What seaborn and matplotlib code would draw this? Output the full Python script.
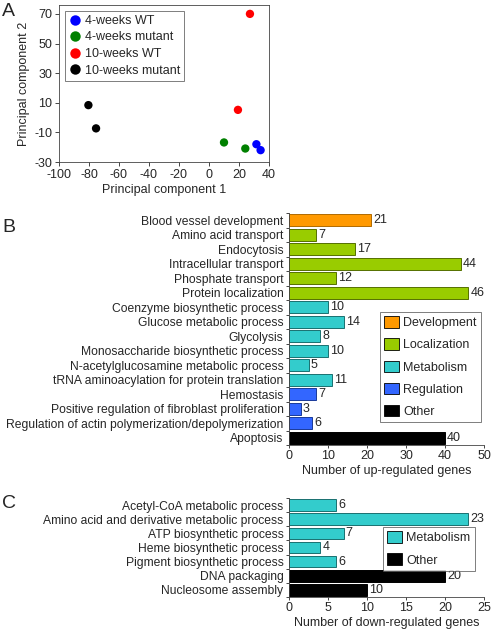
import matplotlib
matplotlib.use("Agg")
import matplotlib.pyplot as plt
from matplotlib.patches import Patch
import numpy as np
import pandas as pd
import seaborn as sns

sns.set_theme(style="white")
plt.rcParams['font.family'] = ['Liberation Sans', 'DejaVu Sans']
plt.rcParams['axes.unicode_minus'] = False
FS = 9

# ---- Panel A data ----
pca_groups = ["4-weeks WT", "4-weeks WT", "4-weeks mutant", "4-weeks mutant",
              "10-weeks WT", "10-weeks WT", "10-weeks mutant", "10-weeks mutant"]
pc1 = [31.6, 34.4, 10.0, 24.2, 27.3, 19.3, -80.4, -75.3]
pc2 = [-18.0, -22.0, -16.8, -20.9, 70.0, 5.2, 8.4, -7.3]
group_order = ["4-weeks WT", "4-weeks mutant", "10-weeks WT", "10-weeks mutant"]
group_colors = ["#0000ff", "#008000", "#ff0000", "#000000"]

# ---- Panel B data ----
up_terms = ["Blood vessel development", "Amino acid transport", "Endocytosis",
            "Intracellular transport", "Phosphate transport", "Protein localization",
            "Coenzyme biosynthetic process", "Glucose metabolic process", "Glycolysis",
            "Monosaccharide biosynthetic process", "N-acetylglucosamine metabolic process",
            "tRNA aminoacylation for protein translation", "Hemostasis",
            "Positive regulation of fibroblast proliferation",
            "Regulation of actin polymerization/depolymerization", "Apoptosis"]
up_counts = [21, 7, 17, 44, 12, 46, 10, 14, 8, 10, 5, 11, 7, 3, 6, 40]
up_cats = ["Development", "Localization", "Localization", "Localization", "Localization",
           "Localization", "Metabolism", "Metabolism", "Metabolism", "Metabolism",
           "Metabolism", "Metabolism", "Regulation", "Regulation", "Regulation", "Other"]

# ---- Panel C data ----
down_terms = ["Acetyl-CoA metabolic process", "Amino acid and derivative metabolic process",
              "ATP biosynthetic process", "Heme biosynthetic process",
              "Pigment biosynthetic process", "DNA packaging", "Nucleosome assembly"]
down_counts = [6, 23, 7, 4, 6, 20, 10]
down_cats = ["Metabolism"] * 5 + ["Other"] * 2

cat_order = ["Development", "Localization", "Metabolism", "Regulation", "Other"]
cat_colors = {"Development": "#ff9900", "Localization": "#99cc00",
              "Metabolism": "#33cccc", "Regulation": "#3366ff", "Other": "#000000"}
cat_edges = {"Development": "#b06a00", "Localization": "#557000",
             "Metabolism": "#1a7070", "Regulation": "#1a3a99", "Other": "#000000"}

W, H = 492, 636
fig = plt.figure(figsize=(W / 100, H / 100), dpi=100)

def rect(l, t, r, b):
    return [l / W, 1 - b / H, (r - l) / W, (b - t) / H]

# ---- Panel A ----
axA = fig.add_axes(rect(59, 5, 269, 162))
dfA = pd.DataFrame({"PC1": pc1, "PC2": pc2, "group": pca_groups})
sns.scatterplot(data=dfA, x="PC1", y="PC2", hue="group", hue_order=group_order,
                palette=group_colors, s=36, edgecolor="none", ax=axA)
axA.set_xlim(-100, 40)
axA.set_ylim(-30, 76)
axA.set_xticks(np.arange(-100, 41, 20))
axA.set_yticks([-30, -10, 10, 30, 50, 70])
axA.set_xlabel("Principal component 1", fontsize=FS, labelpad=2)
axA.set_ylabel("Principal component 2", fontsize=FS, labelpad=3)
axA.tick_params(axis="both", labelsize=FS, length=3, width=0.6, direction="out",
                bottom=True, left=True, pad=2)
for s in axA.spines.values():
    s.set_linewidth(0.6)
    s.set_color("#444444")
legA = axA.legend(loc="upper left", fontsize=FS, frameon=True, fancybox=False,
                  handletextpad=0.25, borderpad=0.35, labelspacing=0.36,
                  handlelength=1.0, borderaxespad=0.45, markerscale=1.25)
legA.get_frame().set_edgecolor("#444444")
legA.get_frame().set_linewidth(0.6)

def bar_panel(ax, terms, counts, cats, xmax, step, xlabel, legend_cats, leg_rect):
    df = pd.DataFrame({"term": terms, "count": counts, "cat": cats})
    sns.barplot(data=df, y="term", x="count", hue="cat", hue_order=cat_order,
                palette=cat_colors, dodge=False, width=0.82, legend=False,
                orient="h", ax=ax, saturation=1)
    for cont in ax.containers:
        for p in cont.patches:
            if p.get_width() > 0:
                fc = p.get_facecolor()
                for k, v in cat_colors.items():
                    if np.allclose(matplotlib.colors.to_rgba(v), fc, atol=0.02):
                        p.set_edgecolor(cat_edges[k])
                p.set_linewidth(0.7)
        ax.bar_label(cont, fontsize=FS, padding=1.5,
                     labels=[("%d" % v) if v > 0 else "" for v in cont.datavalues])
    n = len(terms)
    ax.set_ylim(n - 0.5, -0.5)
    ax.set_xlim(0, xmax)
    ax.set_xticks(np.arange(0, xmax + 0.1, step))
    ax.set_xlabel(xlabel, fontsize=FS, labelpad=2)
    ax.set_ylabel("")
    ax.set_yticks(np.arange(n))
    ax.set_yticks(np.arange(-0.5, n, 1), minor=True)
    ax.tick_params(axis="y", which="major", length=0, labelsize=8.75, pad=4)
    ax.tick_params(axis="y", which="minor", length=2, width=0.6, left=True)
    ax.tick_params(axis="x", labelsize=FS, length=2.5, width=0.6, bottom=True, pad=1)
    for sname in ["top", "right"]:
        ax.spines[sname].set_visible(False)
    for sname in ["left", "bottom"]:
        ax.spines[sname].set_linewidth(0.6)
        ax.spines[sname].set_color("#444444")
    handles = [Patch(facecolor=cat_colors[c], edgecolor="#000000", linewidth=0.6, label=c)
               for c in legend_cats]
    l, t, r, b = leg_rect
    leg = fig.legend(handles=handles, loc="upper left",
                     bbox_to_anchor=(l / W, 1 - t / H), fontsize=FS, frameon=True,
                     fancybox=False, handlelength=1.2, handleheight=1.05,
                     handletextpad=0.3, labelspacing=0.72, borderpad=0.35,
                     borderaxespad=0)
    leg.get_frame().set_edgecolor("#444444")
    leg.get_frame().set_linewidth(0.6)

axB = fig.add_axes(rect(289, 213, 484, 445))
bar_panel(axB, up_terms, up_counts, up_cats, 50, 10, "Number of up-regulated genes",
          cat_order, (380, 312, 482, 421))

axC = fig.add_axes(rect(289, 498, 484, 597))
bar_panel(axC, down_terms, down_counts, down_cats, 25, 5, "Number of down-regulated genes",
          ["Metabolism", "Other"], (383, 527, 481, 567))

for letter, (x, y) in {"A": (2, 11), "B": (2, 227), "C": (2, 504)}.items():
    fig.text(x / W, 1 - y / H, letter, fontsize=14, va="center", ha="left")

fig.savefig("out.png", dpi=100)
